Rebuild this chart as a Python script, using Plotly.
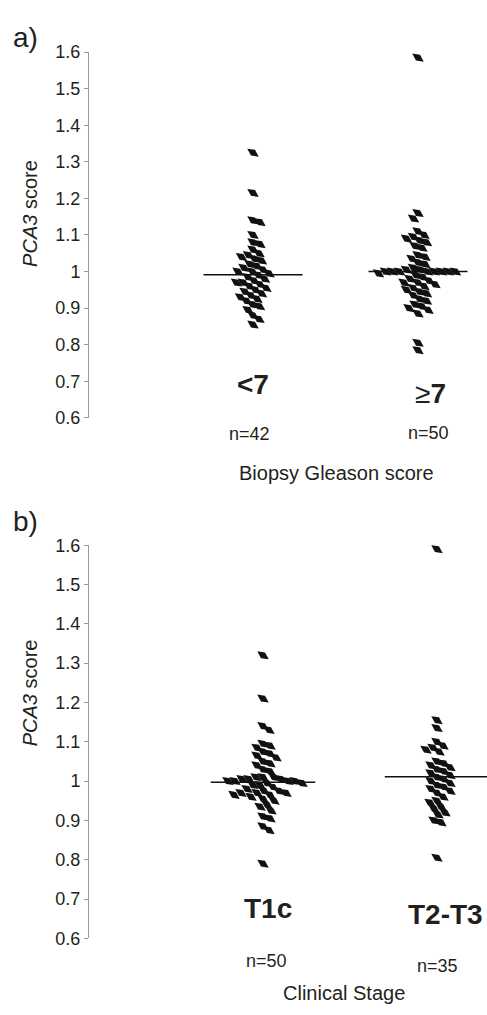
import plotly.graph_objects as go

# ---------------- data ----------------
gleason_labels = ["<7", "≥<b>7</b>"]
gleason_n = ["n=42", "n=50"]
gleason_lt7 = [1.325, 1.215, 1.14, 1.135, 1.10, 1.08, 1.075, 1.06, 1.05, 1.045, 1.04, 1.035,
               1.03, 1.02, 1.015, 1.01, 1.005, 1.0, 1.0, 0.995, 0.99, 0.985, 0.98, 0.975, 0.97,
               0.97, 0.965, 0.96, 0.955, 0.95, 0.945, 0.94, 0.935, 0.93, 0.925, 0.92, 0.91,
               0.905, 0.895, 0.88, 0.87, 0.855]
gleason_ge7 = [1.585, 1.16, 1.145, 1.11, 1.10, 1.095, 1.09, 1.085, 1.08, 1.07, 1.065, 1.045,
               1.04, 1.035, 1.025, 1.02, 1.01, 1.005, 1.005, 1.0, 1.0, 1.0, 1.0, 1.0, 1.0, 1.0,
               1.0, 0.995, 0.99, 0.985, 0.98, 0.975, 0.97, 0.97, 0.965, 0.96, 0.955, 0.95,
               0.945, 0.94, 0.935, 0.925, 0.92, 0.91, 0.905, 0.9, 0.895, 0.885, 0.805, 0.785]
gleason_center_line = [0.991, 1.000]

stage_labels = ["T1c", "T2-T3"]
stage_n = ["n=50", "n=35"]
stage_t1c = [1.32, 1.21, 1.14, 1.13, 1.095, 1.09, 1.085, 1.075, 1.07, 1.065, 1.06, 1.05,
             1.045, 1.04, 1.03, 1.025, 1.01, 1.01, 1.01, 1.005, 1.005, 1.005, 1.0, 1.0, 1.0,
             1.0, 0.995, 0.995, 0.99, 0.99, 0.985, 0.98, 0.975, 0.975, 0.97, 0.97, 0.97,
             0.965, 0.965, 0.96, 0.955, 0.95, 0.94, 0.935, 0.925, 0.91, 0.905, 0.885, 0.875,
             0.79]
stage_t2t3 = [1.59, 1.155, 1.135, 1.10, 1.09, 1.085, 1.08, 1.075, 1.05, 1.045, 1.04, 1.035,
              1.03, 1.025, 1.02, 1.015, 1.01, 1.005, 1.0, 0.995, 0.99, 0.985, 0.98, 0.975,
              0.97, 0.96, 0.95, 0.945, 0.935, 0.93, 0.92, 0.915, 0.9, 0.895, 0.805]
stage_center_line = [0.997, 1.011]

y_ticks = [0.6, 0.7, 0.8, 0.9, 1.0, 1.1, 1.2, 1.3, 1.4, 1.5, 1.6]
y_ticktext = ["0.6", "0.7", "0.8", "0.9", "1", "1.1", "1.2", "1.3", "1.4", "1.5", "1.6"]

# ---------------- layout constants ----------------
W, H = 487, 1015
L = 89
FONT = "Liberation Sans, Arial, Helvetica, sans-serif"
TXT = "#231f20"

top_px = (43, 416)      # pixel rows of 1.6 and 0.6
bot_px = (546, 947)
top_ppx = 165.0         # px per x unit
bot_ppx = 174.0
top_left = 1 - (253 - L) / top_ppx
bot_left = 1 - (263 - L) / bot_ppx


def swarm(vals, center, ppy, ppx, d=7.0):
    placed = []
    xs = []
    for v in vals:
        yp = v * ppy
        off = 0.0
        for k in range(0, 400):
            found = False
            for s in ((1, -1) if k % 2 == 0 else (-1, 1)):
                cand = s * k * 0.5
                ok = True
                for (px, py) in placed:
                    if (px - cand) ** 2 + (py - yp) ** 2 < d * d:
                        ok = False
                        break
                if ok:
                    off = cand
                    found = True
                    break
            if found:
                break
        placed.append((off, yp))
        xs.append(center + off / ppx)
    return xs


top_ppy = (top_px[1] - top_px[0]) / 1.0
bot_ppy = (bot_px[1] - bot_px[0]) / 1.0

marker = dict(symbol="diamond-wide", size=10, color="#111111", angle=35,
              line=dict(width=0))

fig = go.Figure()

panels = [
    ("x", "y", [gleason_lt7, gleason_ge7], gleason_center_line, top_ppy, top_ppx),
    ("x2", "y2", [stage_t1c, stage_t2t3], stage_center_line, bot_ppy, bot_ppx),
]
for xa, ya, groups, lines, ppy, ppx in panels:
    for i, g in enumerate(groups):
        c = i + 1
        fig.add_trace(go.Scatter(x=swarm(g, c, ppy, ppx), y=g, mode="markers",
                                 marker=marker, xaxis=xa, yaxis=ya,
                                 cliponaxis=False, showlegend=False, hoverinfo="y"))
        fig.add_trace(go.Scatter(x=[c - 0.3, c + 0.3], y=[lines[i], lines[i]], mode="lines",
                                 line=dict(color="#111111", width=1.5), xaxis=xa, yaxis=ya,
                                 cliponaxis=False, showlegend=False, hoverinfo="skip"))


def py(p):
    return 1 - p / H


def px(p):
    return (p - L) / (W - L)


yaxis_common = dict(range=[0.6, 1.6], tickvals=y_ticks, ticktext=y_ticktext,
                    showgrid=False, zeroline=False, showline=True, linecolor="#9a9a9a",
                    linewidth=1, ticks="outside", ticklen=4, tickcolor="#9a9a9a",
                    tickfont=dict(family=FONT, size=18, color=TXT), fixedrange=True)
overlay_common = dict(range=[0.6, 1.6], tickvals=y_ticks, showgrid=False, zeroline=False,
                      showline=False, ticks="inside", ticklen=4, tickcolor="#9a9a9a",
                      showticklabels=False, side="left")

fig.update_layout(
    width=W, height=H, margin=dict(l=L, r=0, t=0, b=0),
    paper_bgcolor="white", plot_bgcolor="white",
    xaxis=dict(domain=[0, 1], range=[top_left, top_left + (W - L) / top_ppx],
               visible=False, anchor="y"),
    xaxis2=dict(domain=[0, 1], range=[bot_left, bot_left + (W - L) / bot_ppx],
                visible=False, anchor="y2"),
    yaxis=dict(domain=[py(top_px[1]), py(top_px[0])], anchor="x", **yaxis_common),
    yaxis2=dict(domain=[py(bot_px[1]), py(bot_px[0])], anchor="x2", **yaxis_common),
    yaxis3=dict(overlaying="y", anchor="x", **overlay_common),
    yaxis4=dict(overlaying="y2", anchor="x2", **overlay_common),
)

ann = []


def text(t, x, y, size, bold=False, angle=0):
    ann.append(dict(text=(f"<b>{t}</b>" if bold else t), x=px(x), y=py(y), xref="paper",
                    yref="paper", showarrow=False, xanchor="center", yanchor="middle",
                    textangle=angle, font=dict(family=FONT, size=size, color=TXT)))


text("a)", 25, 28, 28)
text("b)", 25, 522, 28)
text("<i>PCA3</i> score", 30, 208, 20, angle=-90)
text("<i>PCA3</i> score", 30, 697, 20, angle=-90)

text(gleason_labels[0], 253, 382, 28, bold=True)
text(gleason_labels[1], 430, 391, 28)
text(gleason_n[0], 249, 433, 18)
text(gleason_n[1], 428, 432, 18)
text("Biopsy Gleason score", 336, 472, 20)

text(stage_labels[0], 268, 917, 28, bold=True)
text(stage_labels[1], 445, 923, 28, bold=True)
text(stage_n[0], 266, 970, 18)
text(stage_n[1], 437, 975, 18)
text("Clinical Stage", 344, 1003, 20)

fig.update_layout(annotations=ann)

fig.write_html("out.html")
